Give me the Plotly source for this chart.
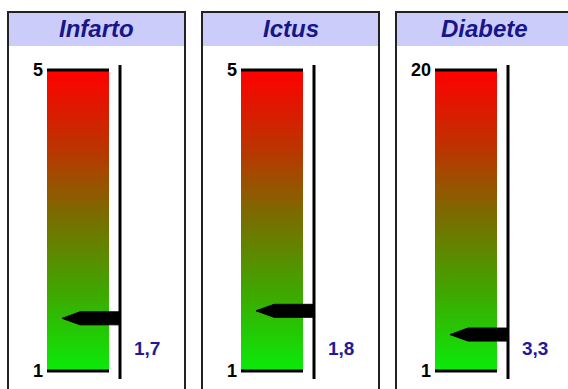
import numpy as np
import plotly.graph_objects as go

# ---- data ----
titles = ["Infarto", "Ictus", "Diabete"]
scale_min = [1, 1, 1]
scale_max = [5, 5, 20]
values = [1.7, 1.8, 3.3]
value_labels = ["1,7", "1,8", "3,3"]

# ---- layout constants (pixels) ----
W, H = 568, 389
panel_left = [8, 202, 396]
PW = 177
TOP_PX, BOT_PX = 70, 371      # pixel rows of scale max / min
DOM_TOP, DOM_BOT = 60, 385    # pixel rows of the axis domain
BAR_L, BAR_R = 39, 101        # bar edges relative to panel left
VLINE = 112
TIP, SHOULDER = 54, 72
PTR_HALF = 6.5

grad = [[0.0, "rgb(10,235,10)"], [0.25, "rgb(60,170,0)"], [0.5, "rgb(118,112,0)"],
        [0.75, "rgb(190,50,0)"], [1.0, "rgb(255,0,0)"]]

fig = go.Figure()
layout = {}
shapes = []
annotations = []

for i in range(3):
    ax = "" if i == 0 else str(i + 1)
    xa, ya = "x" + ax, "y" + ax
    m, M, v = scale_min[i], scale_max[i], values[i]
    ppu = (BOT_PX - TOP_PX) / (M - m)
    yr = [m - (DOM_BOT - BOT_PX) / ppu, M + (TOP_PX - DOM_TOP) / ppu]
    x0p = panel_left[i]
    x1p = min(x0p + PW, W)
    layout["xaxis" + ax] = dict(domain=[x0p / W, x1p / W], range=[0, x1p - x0p],
                                visible=False, fixedrange=True, anchor=ya)
    layout["yaxis" + ax] = dict(domain=[(H - DOM_BOT) / H, (H - DOM_TOP) / H], range=yr,
                                visible=False, fixedrange=True, anchor=xa)

    # gradient bar
    yedges = np.linspace(m, M, 121)
    zc = ((yedges[:-1] + yedges[1:]) / 2).reshape(-1, 1)
    fig.add_trace(go.Heatmap(x=[BAR_L, BAR_R], y=yedges, z=zc, zmin=m, zmax=M,
                             colorscale=grad, showscale=False, hoverinfo="skip",
                             xaxis=xa, yaxis=ya))
    # scale end lines
    for yy in (m, M):
        fig.add_trace(go.Scatter(x=[BAR_L, BAR_R], y=[yy, yy], mode="lines",
                                 line=dict(color="black", width=3), hoverinfo="skip",
                                 showlegend=False, xaxis=xa, yaxis=ya))
    # pointer
    hh = PTR_HALF / ppu
    fig.add_trace(go.Scatter(x=[TIP, SHOULDER, VLINE, VLINE, SHOULDER, TIP],
                             y=[v, v + hh, v + hh, v - hh, v - hh, v],
                             fill="toself", fillcolor="black", mode="lines",
                             line=dict(color="black", width=1), hoverinfo="skip",
                             showlegend=False, xaxis=xa, yaxis=ya))
    # vertical line
    shapes.append(dict(type="line", xref=xa, yref=ya + " domain", x0=VLINE, x1=VLINE,
                       y0=(DOM_BOT - 379) / (DOM_BOT - DOM_TOP),
                       y1=(DOM_BOT - 65) / (DOM_BOT - DOM_TOP),
                       line=dict(color="black", width=3)))
    # panel header and frame
    px0 = x0p / W
    px1 = (x0p + PW) / W
    shapes.append(dict(type="rect", xref="paper", yref="paper", x0=px0, x1=px1,
                       y0=(H - 46) / H, y1=(H - 12) / H, fillcolor="#ccccfa",
                       line=dict(width=0), layer="below"))
    shapes.append(dict(type="rect", xref="paper", yref="paper", x0=px0, x1=px1,
                       y0=-0.1, y1=(H - 12) / H, line=dict(color="#222222", width=2)))
    annotations.append(dict(xref="paper", yref="paper", x=(x0p + PW / 2) / W,
                            y=(H - 29) / H, text="<b><i>" + titles[i] + "</i></b>",
                            showarrow=False, xanchor="center", yanchor="middle",
                            font=dict(family="Arial, Liberation Sans", size=24,
                                      color="#16168a")))
    # scale labels
    for yy in (m, M):
        annotations.append(dict(xref=xa, yref=ya, x=BAR_L - 2, y=yy,
                                text="<b>" + str(yy) + "</b>", showarrow=False,
                                xanchor="right", yanchor="middle",
                                font=dict(family="Arial, Liberation Sans", size=18,
                                          color="black")))
    # value label
    annotations.append(dict(xref=xa, yref=ya + " domain", x=VLINE + 12,
                            y=(DOM_BOT - 348) / (DOM_BOT - DOM_TOP),
                            text="<b>" + value_labels[i] + "</b>", showarrow=False,
                            xanchor="left", yanchor="middle",
                            font=dict(family="Arial, Liberation Sans", size=19,
                                      color="#1c1c96")))

fig.update_layout(width=W, height=H, margin=dict(l=0, r=0, t=0, b=0),
                  paper_bgcolor="white", plot_bgcolor="rgba(0,0,0,0)",
                  showlegend=False, shapes=shapes, annotations=annotations, **layout)

fig.write_html("out.html", config={"displayModeBar": False},
               post_script="document.body.style.margin='0';document.body.style.overflow='hidden';")
